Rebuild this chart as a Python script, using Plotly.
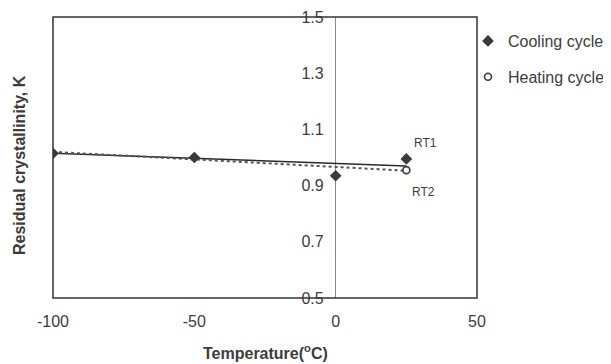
import plotly.graph_objects as go

# ---- data ----
cooling_x = [-100, -50, 0, 25]
cooling_y = [1.015, 1.0, 0.935, 0.995]
heating_x = [25]
heating_y = [0.955]
cool_trend_x = [-100, 25]
cool_trend_y = [1.015, 0.97]
heat_trend_x = [-100, 25]
heat_trend_y = [1.02, 0.953]
x_ticks = [-100, -50, 0, 50]
x_tick_labels = ["-100", "-50", "0", "50"]
y_ticks = [0.5, 0.7, 0.9, 1.1, 1.3, 1.5]
series_names = ["Cooling cycle", "Heating cycle"]
point_labels = ["RT1", "RT2"]

FONT = "Liberation Sans, Arial, sans-serif"
TXT = "#3c3c3c"

# page body adds an 8px offset; work in screen pixels and subtract it
OFF = 8
W, H = 611, 364
SL, SR, ST, SB = 53, 477, 17, 298          # plot box in screen pixels
L, T = SL - OFF, ST - OFF
R, B = W - (SR - OFF), H - (SB - OFF)
pw, ph = SR - SL, SB - ST


def px_x(p):
    return (p - SL) / pw


def px_y(p):
    return (SB - p) / ph


fig = go.Figure()

fig.add_trace(go.Scatter(
    x=cool_trend_x, y=cool_trend_y, mode="lines",
    line=dict(color="#2a2a2a", width=1.6), showlegend=False, hoverinfo="skip"))
fig.add_trace(go.Scatter(
    x=heat_trend_x, y=heat_trend_y, mode="lines",
    line=dict(color="#555555", width=2, dash="dot"), showlegend=False, hoverinfo="skip"))

fig.add_trace(go.Scatter(
    x=cooling_x, y=cooling_y, mode="markers", name=series_names[0],
    legendgroup="c",
    marker=dict(symbol="diamond", size=9, color="#3a3a3a")))
fig.add_trace(go.Scatter(
    x=heating_x, y=heating_y, mode="markers", name=series_names[1],
    legendgroup="h",
    marker=dict(symbol="circle-open", size=7, color="#3a3a3a", line=dict(width=1.6))))

# point labels
fig.add_annotation(x=cooling_x[3], y=cooling_y[3], text=point_labels[0], showarrow=False,
                   xshift=19, yshift=16, font=dict(family=FONT, size=12, color=TXT))
fig.add_annotation(x=heating_x[0], y=heating_y[0], text=point_labels[1], showarrow=False,
                   xshift=17, yshift=-22, font=dict(family=FONT, size=12, color=TXT))

# axis titles
fig.add_annotation(xref="paper", yref="paper", x=px_x(265), y=px_y(352),
                   text="<b>Temperature(<sup>o</sup>C)</b>", showarrow=False,
                   xanchor="center", yanchor="middle",
                   font=dict(family=FONT, size=16, color=TXT))
fig.add_annotation(xref="paper", yref="paper", x=px_x(19), y=px_y(165),
                   text="<b>Residual crystallinity, K</b>", showarrow=False, textangle=-90,
                   xanchor="center", yanchor="middle",
                   font=dict(family=FONT, size=16, color=TXT))

# plot frame
fig.add_shape(type="rect", xref="paper", yref="paper", x0=0, x1=1, y0=0, y1=1,
              line=dict(color="#333333", width=1.5), layer="above")

fig.update_layout(
    width=W, height=H,
    margin=dict(l=L, r=R, t=T, b=B, autoexpand=False),
    paper_bgcolor="white", plot_bgcolor="white",
    font=dict(family=FONT, size=16, color=TXT),
    xaxis=dict(range=[-100, 50], tickvals=x_ticks, ticktext=x_tick_labels,
               showgrid=False, automargin=False,
               zeroline=True, zerolinecolor="#8a8a8a", zerolinewidth=1,
               showline=False, ticks="", ticklabelstandoff=12,
               tickfont=dict(size=16, color=TXT)),
    yaxis=dict(range=[0.5, 1.5], tickvals=y_ticks, tickformat=".1f",
               showgrid=False, zeroline=False, showline=False, automargin=False,
               anchor="free", position=(0 - (-100)) / 150, side="left",
               ticks="", ticklabelstandoff=12,
               tickfont=dict(size=16, color=TXT)),
    legend=dict(x=px_x(468), y=px_y(24), xanchor="left", yanchor="top",
                font=dict(family=FONT, size=16, color=TXT),
                bgcolor="rgba(0,0,0,0)", tracegroupgap=12, itemwidth=30),
    showlegend=True,
)

fig.write_html("out.html")
